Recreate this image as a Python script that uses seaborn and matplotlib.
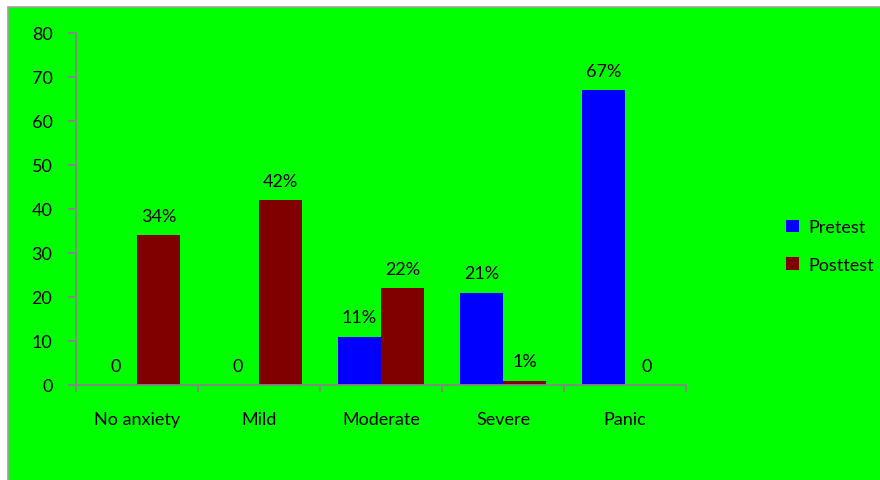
import matplotlib
matplotlib.use("Agg")
import matplotlib.pyplot as plt
import matplotlib.patches as mpatches
import seaborn as sns
import pandas as pd
import numpy as np

categories = ["No anxiety", "Mild", "Moderate", "Severe", "Panic"]
pretest = [0, 0, 11, 21, 67]
posttest = [34, 42, 22, 1, 0]
pretest_labels = ["0", "0", "11%", "21%", "67%"]
posttest_labels = ["34%", "42%", "22%", "1%", "0"]
series = ["Pretest", "Posttest"]
yticks = [0, 10, 20, 30, 40, 50, 60, 70, 80]

df = pd.DataFrame({
    "category": categories * 2,
    "value": pretest + posttest,
    "series": ["Pretest"] * len(categories) + ["Posttest"] * len(categories),
})

sns.set_theme(style="white")
plt.rcParams['font.family'] = ['Lato', 'DejaVu Sans']
plt.rcParams['text.color'] = 'black'

GREEN = "#00FF00"
AXIS = "#868686"
FS = 13

fig = plt.figure(figsize=(8.8, 4.81), dpi=100)
fig.patch.set_facecolor("white")
bg = mpatches.Rectangle((7.5 / 880, -0.05), 1, 1.05 - 8 / 481, transform=fig.transFigure,
                        facecolor=GREEN, edgecolor="#A0A0A0", linewidth=1.2, zorder=-10)
fig.patches.append(bg)

ax = fig.add_axes([76 / 880, 1 - 386 / 481, (686 - 76) / 880, (386 - 34) / 481])
ax.set_facecolor("none")
ax.set_zorder(1)

sns.barplot(data=df, x="category", y="value", hue="series", order=categories,
            hue_order=series, palette=["#0000FF", "#800000"], width=0.71,
            saturation=1, ax=ax, legend=False, edgecolor="none", linewidth=0)

for cont, labs in zip(ax.containers, [pretest_labels, posttest_labels]):
    ax.bar_label(cont, labels=labs, padding=8, fontsize=FS, color="black")

ax.set_ylim(0, 80)
ax.set_yticks(yticks)
ax.set_xlim(-0.5, len(categories) - 0.5)
ax.set_xlabel("")
ax.set_ylabel("")

for s in ["top", "right"]:
    ax.spines[s].set_visible(False)
for s in ["left", "bottom"]:
    ax.spines[s].set_color(AXIS)
    ax.spines[s].set_linewidth(1.3)

ax.tick_params(axis="y", which="major", left=True, length=6, width=1.3, color=AXIS,
               labelsize=FS, pad=11, labelcolor="black")
ax.tick_params(axis="x", which="major", bottom=False, length=0, labelsize=FS, pad=19,
               labelcolor="black")
ax.set_xticks(np.arange(-0.5, len(categories)), minor=True)
ax.tick_params(axis="x", which="minor", bottom=True, length=5, width=1.3, color=AXIS)

handles = [mpatches.Patch(facecolor=c, edgecolor="none") for c in ["#0000FF", "#800000"]]
fig.legend(handles, series, loc="center left", bbox_to_anchor=(779 / 880, 1 - 247 / 481),
           frameon=False, fontsize=FS, handlelength=0.7, handleheight=0.7,
           handletextpad=0.5, labelspacing=1.2, borderaxespad=0, labelcolor="black")

fig.savefig("out.png", dpi=100, facecolor=fig.get_facecolor())
